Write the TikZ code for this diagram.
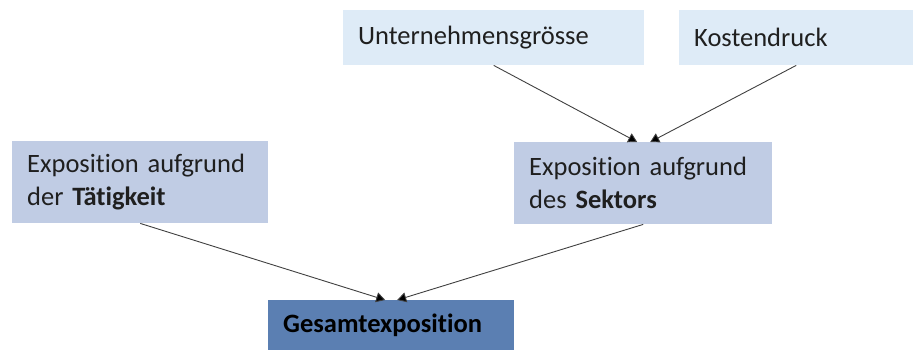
\documentclass[tikz,border=0pt]{standalone}
\usepackage{fontspec}
\setmainfont{Carlito}[Ligatures=NoCommon]
\usetikzlibrary{arrows.meta}
\definecolor{lightbox}{RGB}{222,235,247}
\definecolor{midbox}{RGB}{192,204,228}
\definecolor{darkbox}{RGB}{91,127,178}
\definecolor{linegray}{RGB}{64,64,64}
\newcommand{\nl}{\kern0pt }
\begin{document}
\begin{tikzpicture}[x=1pt,y=-1pt]
    \tikzstyle{block} = [rectangle, fill=lightbox, anchor=north west, align=left, inner xsep=15pt, inner ysep=0pt, text=black!88, font=\fontsize{26.5}{33}\selectfont]
    \tikzstyle{arrow} = [draw=linegray, line width=0.9pt, -{Triangle[width=10pt,length=9pt,fill=black]}]
    \useasboundingbox (0,0) rectangle (915,349);
    \node (groesse) [block, minimum width=301pt, minimum height=55pt, text width=271pt] at (343,10) {Unternehmensgrösse};
    \node (kosten) [block, minimum width=234pt, minimum height=55pt, text width=204pt] at (679,10) {Kostendruck};
    \node (taetigkeit) [block, fill=midbox, minimum width=256pt, minimum height=82pt, text width=226pt] at (12,141) {Exposit\nl ion aufgrund\\ der \textbf{Tät\nl igkeit}};
    \node (sektor) [block, fill=midbox, minimum width=258pt, minimum height=82pt, text width=228pt] at (514,142) {Exposit\nl ion aufgrund\\ des \textbf{Sektors}};
    \node (gesamt) [block, fill=darkbox, text=black, minimum width=246pt, minimum height=50pt, text width=216pt] at (268,300) {\textbf{Gesamtexposit\nl ion}};

    \draw [arrow] (groesse.south) -- ([xshift=-6pt]sektor.north);
    \draw [arrow] (kosten.south) -- ([xshift=7pt]sektor.north);
    \draw [arrow] (taetigkeit.south) -- ([xshift=-6pt]gesamt.north);
    \draw [arrow] (sektor.south) -- ([xshift=6pt]gesamt.north);

\end{tikzpicture}
\end{document}
